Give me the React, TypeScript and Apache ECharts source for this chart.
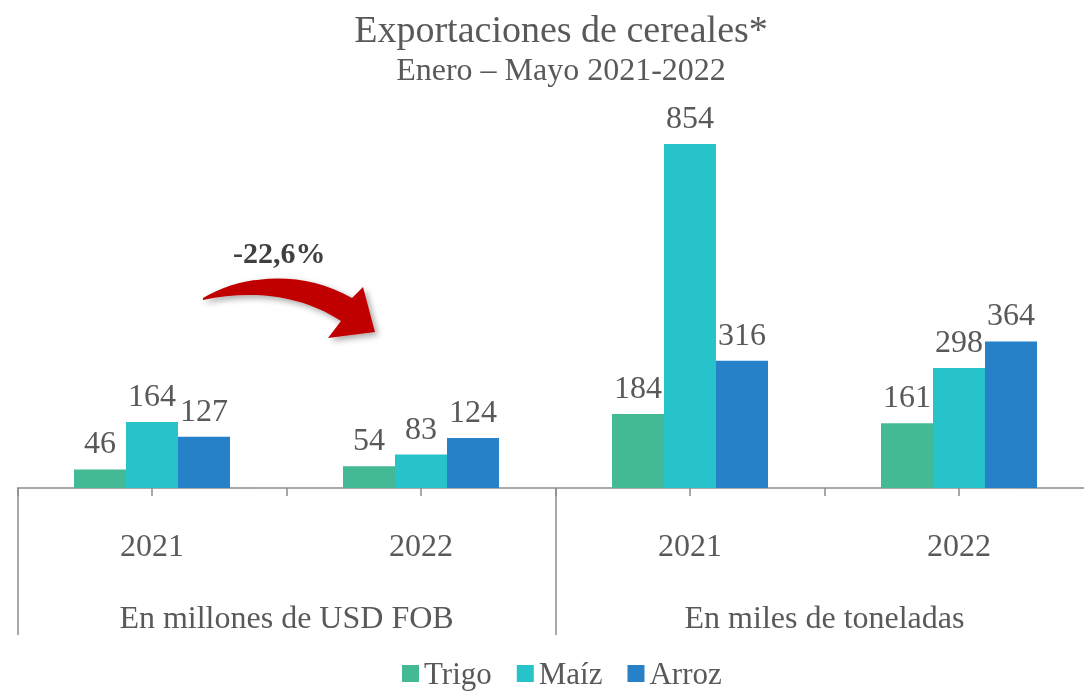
import React, { useEffect, useRef } from "react";
import * as echarts from "echarts";

const categories = ["2021", "2022", "2021", "2022"];
const groups = ["En millones de USD FOB", "En miles de toneladas"];
const halfSlots = ["a", "b", "c", "d", "e", "f", "g", "h"];
const trigo = [46, 54, 184, 161];
const maiz = [164, 83, 854, 298];
const arroz = [127, 124, 316, 364];
const seriesNames = ["Trigo", "Maíz", "Arroz"];
const colors = ["#43B996", "#26C3CB", "#2781C8"];

const ARROW_D =
  "M 203 298 C 240 276, 300 268, 352 298 L 363 287 L 375 332 L 328 338 L 341 321 C 300 294, 250 290, 203 300 Z";

let registered = false;
function ensureShape() {
  if (registered) return;
  echarts.graphic.registerShape("logo", echarts.graphic.extendPath(ARROW_D, {}) as any);
  registered = true;
}

export default function App() {
  const ref = useRef<HTMLDivElement>(null);
  useEffect(() => {
    if (!ref.current) return;
    ensureShape();
    const chart = echarts.init(ref.current, undefined, { renderer: "svg" });
    const font = "'Liberation Serif', 'Times New Roman', serif";
    const txt = "#595959";
    const axisColor = "#8c8c8c";
    const values = [trigo, maiz, arroz];
    chart.setOption({
      animation: false,
      textStyle: { fontFamily: font },
      title: [
        {
          text: "Exportaciones de cereales*",
          left: 556,
          top: 5,
          textAlign: "center",
          textStyle: { fontFamily: font, fontSize: 38, fontWeight: "normal", color: txt },
        },
        {
          text: "Enero – Mayo 2021-2022",
          left: 556,
          top: 48,
          textAlign: "center",
          textStyle: { fontFamily: font, fontSize: 32, fontWeight: "normal", color: txt },
        },
      ],
      legend: {
        left: 397,
        top: 653,
        itemWidth: 17,
        itemHeight: 17,
        itemGap: 25,
        icon: "rect",
        data: seriesNames,
        textStyle: { fontFamily: font, fontSize: 31, color: txt },
      },
      grid: { left: 17.5, right: 0.5, top: 85.2, bottom: 203, containLabel: false },
      xAxis: [
        {
          type: "category",
          data: categories,
          position: "bottom",
          axisLine: { show: true, lineStyle: { color: axisColor, width: 1.5 } },
          axisTick: { show: false },
          axisLabel: { margin: 41, fontSize: 32, color: txt, fontFamily: font },
        },
        {
          type: "category",
          data: halfSlots,
          position: "bottom",
          axisLine: { show: false },
          axisTick: { show: true, interval: 0, length: 8, lineStyle: { color: axisColor, width: 1.5 } },
          axisLabel: { show: false },
        },
        {
          type: "category",
          data: groups,
          position: "bottom",
          axisLine: { show: false },
          axisTick: { show: true, interval: 0, length: 147, lineStyle: { color: axisColor, width: 1.5 } },
          axisLabel: { margin: 113, fontSize: 32, color: txt, fontFamily: font, interval: 0 },
        },
      ],
      yAxis: { type: "value", min: 0, max: 1000, show: false, splitLine: { show: false } },
      series: seriesNames.map((name, i) => ({
        name,
        type: "bar",
        xAxisIndex: 0,
        data: values[i],
        barGap: "0%",
        barCategoryGap: "42%",
        itemStyle: { color: colors[i] },
        label: {
          show: true,
          position: "top",
          distance: 11,
          fontSize: 32,
          color: txt,
          fontFamily: font,
        },
      })),
      graphic: [
        {
          type: "logo",
          x: 0,
          y: 0,
          style: {
            fill: "#C00000",
            shadowBlur: 6,
            shadowColor: "rgba(0,0,0,0.35)",
            shadowOffsetX: 3,
            shadowOffsetY: 3,
          },
        },
        {
          type: "text",
          left: 233,
          top: 237,
          style: {
            text: "-22,6%",
            fontFamily: font,
            fontSize: 30,
            fontWeight: "bold",
            fill: "#404040",
          },
        },
      ],
    });
    return () => chart.dispose();
  }, []);
  return (
    <div
      ref={ref}
      style={{ position: "fixed", left: 0, top: 0, width: 1094, height: 691 }}
    />
  );
}
